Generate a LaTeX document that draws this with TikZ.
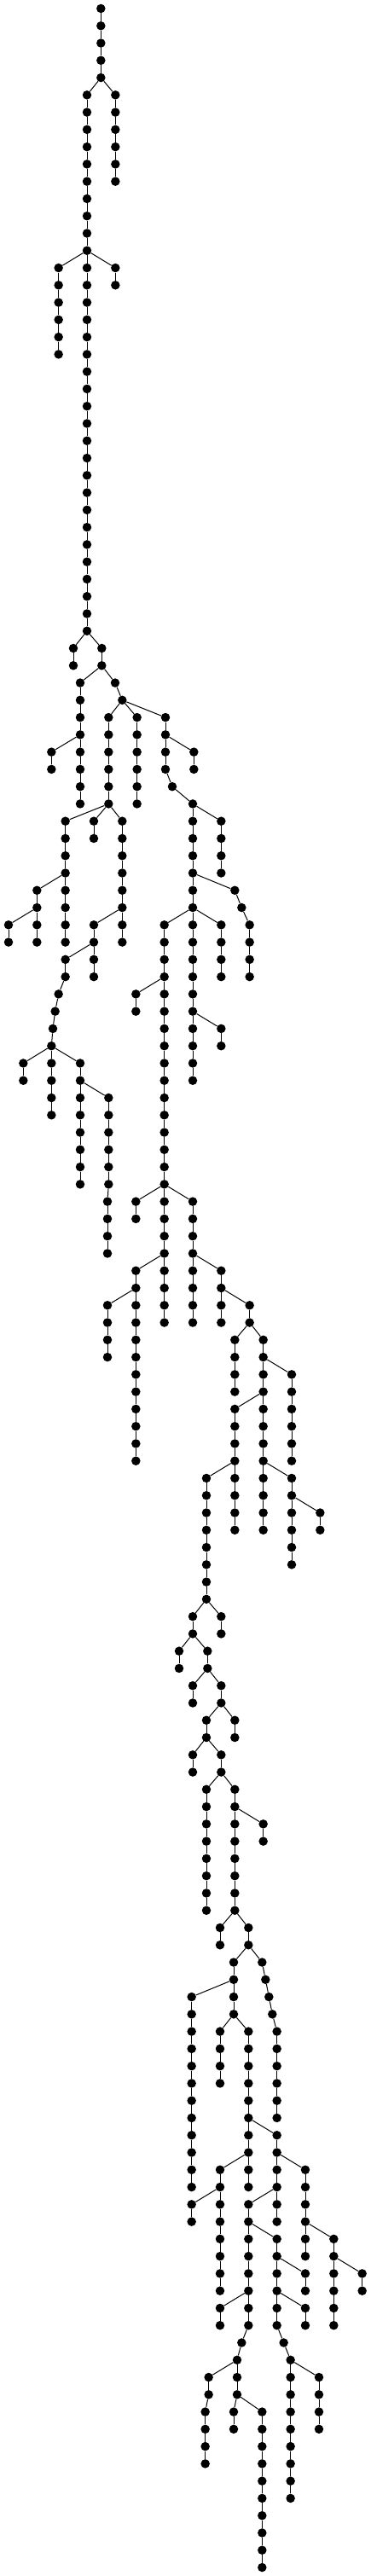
\documentclass[tikz,border=0pt]{standalone}
\begin{document}
\begin{tikzpicture}[x=33.333pt,y=-20.27pt]
  \useasboundingbox (0,-0.4933) rectangle (13.05,148.495);
  \begin{scope}[every node/.style={circle,fill=black,inner sep=0pt,minimum size=10.5pt}]
  \foreach \nm/\xx/\lo/\hi in {a/3.55/0/4, b/4.06/5/10, c/3.06/5/36, d/2.06/15/20, e/4.06/15/16,
      f/2.58/37/38, g/3.58/37/38, h/2.82/39/46, i/4.05/39/39, i/4.30/40/40, j/1.81/43/44,
      k/3.82/41/46, l/4.82/41/46, m/5.82/41/44, m/6.06/45/45, m/6.78/46/46, n/6.82/43/44,
      o/2.30/47/54, p/3.30/47/48, q/4.30/47/54, r/1.30/51/54, s/0.30/53/54, t/3.30/53/56,
      u/2.30/55/56, u/2.06/57/57, u/1.94/58/58, u/1.86/59/59, u/1.81/60/60,
      v/0.82/61/62, w/1.81/61/64, x/2.82/61/68, y/3.82/63/68, y/3.78/69/72,
      z/6.78/47/62, aa/7.78/47/50, ab/8.26/51/51, ab/8.50/52/52, ab/8.78/53/56,
      ac/5.78/53/68, ad/7.78/53/56, ae/7.78/59/60, af/4.78/57/58, ag/4.78/69/70,
      ah/5.78/69/76, ai/6.78/69/76, aj/4.78/73/84, ak/7.78/73/76, al/3.78/75/78,
      am/8.78/75/76, an/8.26/77/80, ao/9.26/77/88, ap/10.26/79/84, aq/8.26/81/88,
      ar/10.26/85/90, as/7.26/85/92, at/11.26/87/88, au/6.78/93/94, av/7.78/93/94,
      aw/6.30/95/96, ax/7.30/95/96, ay/6.78/97/98, az/7.78/97/98, ba/7.26/99/100,
      bb/8.26/99/100, bc/6.78/101/102, bd/7.78/101/102, be/7.26/103/110, bf/8.26/103/110,
      bg/9.26/105/106, bh/7.74/111/112, bi/8.74/111/112, bj/8.22/113/116,
      bk/9.22/113/113, bk/9.34/114/114, bk/9.46/115/115, bk/9.58/116/116, bk/9.74/117/122,
      bl/6.74/115/126, bm/7.74/117/120, bn/8.74/117/126, bo/9.74/123/128, bp/7.74/125/132,
      bq/10.74/125/130, br/8.74/127/134, br/8.50/135/135, br/8.34/136/136, bs/6.74/127/128,
      bt/11.74/129/134, bu/12.74/131/132, bv/9.74/129/134, bv/9.98/135/135, bv/10.22/136/136,
      bw/7.74/133/134, bx/10.74/131/132, by/10.74/133/134, bz/7.34/137/138, bz/7.22/139/142,
      ca/8.34/137/138, cb/8.22/139/140, cc/9.22/139/148, cd/10.22/137/144, ce/11.22/137/140}
    \foreach \k in {\lo,...,\hi}
      \node (\nm\k) at (\xx,\k) {};
  \end{scope}
  \begin{scope}[every edge/.style={draw=black,line width=1pt}]
  \foreach \nm/\lo/\hi in {a/0/4, b/5/10, c/5/36, d/15/20, e/15/16, f/37/38, g/37/38, h/39/46,
      i/39/40, j/43/44, k/41/46, l/41/46, m/41/46, n/43/44, o/47/54, p/47/48, q/47/54,
      r/51/54, s/53/54, t/53/56, u/55/60, v/61/62, w/61/64, x/61/68, y/63/72, z/47/62,
      aa/47/50, ab/51/56, ac/53/68, ad/53/56, ae/59/60, af/57/58, ag/69/70, ah/69/76,
      ai/69/76, aj/73/84, ak/73/76, al/75/78, am/75/76, an/77/80, ao/77/88, ap/79/84,
      aq/81/88, ar/85/90, as/85/92, at/87/88, au/93/94, av/93/94, aw/95/96, ax/95/96,
      ay/97/98, az/97/98, ba/99/100, bb/99/100, bc/101/102, bd/101/102, be/103/110,
      bf/103/110, bg/105/106, bh/111/112, bi/111/112, bj/113/116, bk/113/122, bl/115/126,
      bm/117/120, bn/117/126, bo/123/128, bp/125/132, bq/125/130, br/127/136, bs/127/128,
      bt/129/134, bu/131/132, bv/129/136, bw/133/134, bx/131/132, by/133/134, bz/137/142,
      ca/137/138, cb/139/140, cc/139/148, cd/137/144, ce/137/140} {
    \pgfmathtruncatemacro\fst{\lo+1}
    \foreach \k in {\fst,...,\hi} {
      \pgfmathtruncatemacro\pv{\k-1}
      \path (\nm\pv) edge (\nm\k);
    }
  }
  \foreach \p/\q in {a4/b5, a4/c5, c14/d15, c14/e15, c36/f37, c36/g37, g38/h39, g38/i39,
      h42/j43, i40/k41, i40/l41, i40/m41, m42/n43, k46/o47, k46/p47, k46/q47, o50/r51,
      r52/s53, q52/t53, t54/u55, u60/v61, u60/w61, u60/x61, x62/y63, m46/z47, m46/aa47,
      z50/ab51, z52/ac53, z52/ad53, z58/ae59, ac56/af57, ac68/ag69, ac68/ah69, ac68/ai69,
      ah72/aj73, ai72/ak73, aj74/al75, ak74/am75, am76/an77, am76/ao77, ao78/ap79,
      ao80/aq81, ao84/ar85, aq84/as85, ar86/at87, as92/au93, as92/av93, au94/aw95,
      au94/ax95, ax96/ay97, ax96/az97, az98/ba99, az98/bb99, ba100/bc101, ba100/bd101,
      bd102/be103, bd102/bf103, bf104/bg105, bf110/bh111, bf110/bi111, bi112/bj113,
      bi112/bk113, bj114/bl115, bj116/bm117, bj116/bn117, bn122/bo123, bn124/bp125,
      bo124/bq125, bo126/br127, bp126/bs127, bq128/bt129, bt130/bu131, br128/bv129,
      br132/bw133, bv130/bx131, bv132/by133, br136/bz137, br136/ca137, ca138/cb139,
      ca138/cc139, bv136/cd137, bv136/ce137}
    \path (\p) edge (\q);
  \end{scope}
\end{tikzpicture}
\end{document}
